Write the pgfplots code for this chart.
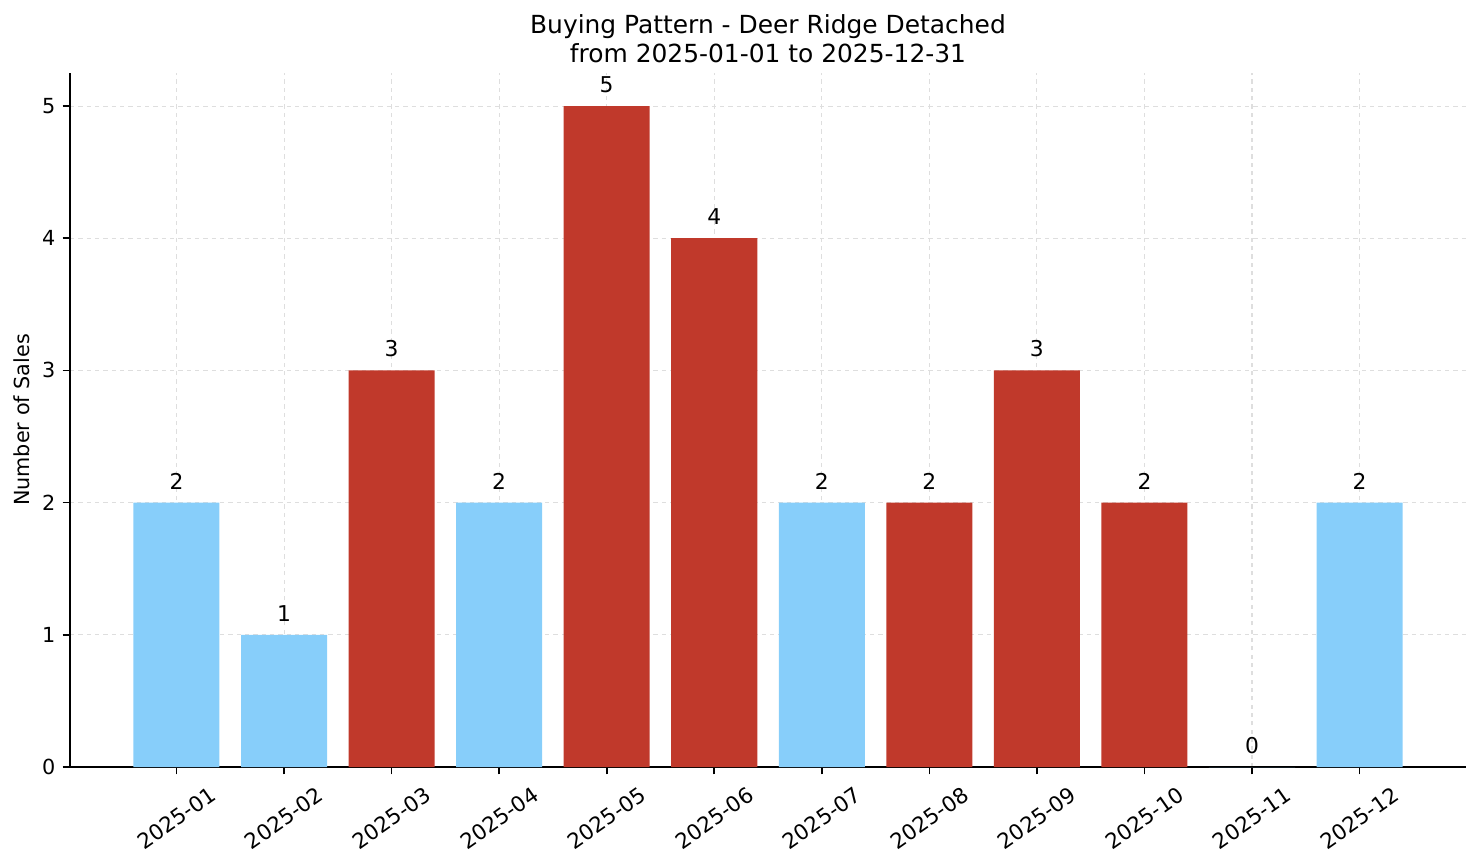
\documentclass[border=0pt]{standalone}
\usepackage{fontspec}
\setmainfont{DejaVu Sans}
\usepackage{pgfplots}
\pgfplotsset{compat=1.18}
\definecolor{lblue}{HTML}{87CEFA}
\definecolor{dred}{HTML}{C0392B}
\begin{document}
\begin{tikzpicture}
\begin{axis}[
  scale only axis, width=670.08bp, height=333.12bp,
  xmin=-0.99, xmax=11.99, ymin=0, ymax=5.25,
  axis x line*=bottom, axis y line*=left,
  axis line style={line width=0.8bp, black, -},
  xtick={0,...,11},
  xticklabels={2025-01,2025-02,2025-03,2025-04,2025-05,2025-06,2025-07,2025-08,2025-09,2025-10,2025-11,2025-12},
  ytick={0,...,5},
  tick align=outside, major tick length=3.5bp,
  tick style={black, line width=0.8bp},
  grid=major, grid style={dash pattern=on 2bp off 2bp, line width=0.5bp, color=black!13},
  font=\fontsize{10}{12}\selectfont,
  /pgf/number format/assume math mode=true,
  xticklabel style={font=\fontsize{10.3}{12}\selectfont, yshift=-21bp, rotate=35, anchor=center},
  yticklabel style={font=\fontsize{10}{12}\selectfont},
  title={Buying Pattern - Deer Ridge Detached\\from 2025-01-01 to 2025-12-31},
  title style={font=\fontsize{12}{13.6}\selectfont, align=center, at={(axis description cs:0.5,1)}, anchor=south, inner sep=0pt, outer sep=0pt, yshift=-0.9bp},
  ylabel={Number of Sales},
  ylabel style={font=\fontsize{10}{12}\selectfont, at={(axis description cs:-0.0343,0.5)}, anchor=center},
  ybar, bar width=0.8,
  nodes near coords,
  every node near coord/.append style={font=\fontsize{10.5}{12}\selectfont, text=black, anchor=base, inner sep=0pt, yshift=6.5bp},
]
\addplot[fill=lblue, draw=none, bar shift=0pt] coordinates {(0,2) (1,1) (3,2) (6,2) (10,0) (11,2)};
\addplot[fill=dred, draw=none, bar shift=0pt] coordinates {(2,3) (4,5) (5,4) (7,2) (8,3) (9,2)};
\end{axis}
\pgfresetboundingbox
\path (current axis.south west) ++(-33.6bp,-46.08bp) coordinate (bl);
\path (current axis.north east) ++(7.2bp,35.04bp) coordinate (tr);
\useasboundingbox (bl) rectangle (tr);
\end{tikzpicture}
\end{document}
